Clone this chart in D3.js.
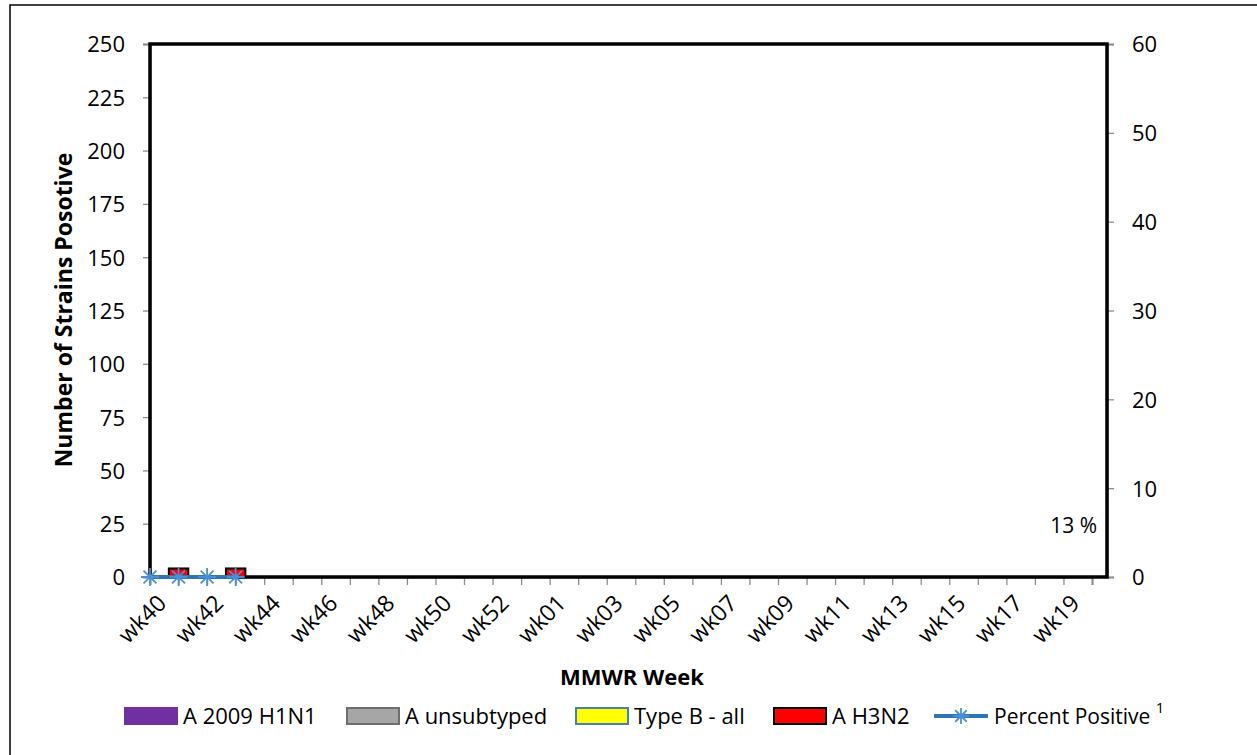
<!DOCTYPE html>
<html><head><meta charset="utf-8">
<script src="https://cdn.jsdelivr.net/npm/d3@7"></script>
<style>
html,body{margin:0;padding:0;background:#fff;}
text{font-family:"Open Sans","Noto Sans",sans-serif;fill:#000;}
</style></head>
<body><svg id="c" width="1257" height="755"></svg>
<script>
// ---- data ----
const categories = ["wk40","wk41","wk42","wk43","wk44","wk45","wk46","wk47","wk48","wk49","wk50","wk51","wk52","wk53",
  "wk01","wk02","wk03","wk04","wk05","wk06","wk07","wk08","wk09","wk10","wk11","wk12","wk13","wk14","wk15","wk16","wk17","wk18","wk19","wk20"];
const xTickLabels = ["wk40","wk42","wk44","wk46","wk48","wk50","wk52","wk01","wk03","wk05","wk07","wk09","wk11","wk13","wk15","wk17","wk19"];
const dataWeeks = ["wk40","wk41","wk42","wk43"];
const a2009H1N1 = [0,0,0,0];
const aUnsubtyped = [0,0,0,0];
const typeBAll = [0,0,0,0];
const aH3N2 = [0,4,0,4];
const percentPositive = [0,0,0,0];
const leftTicks = [0,25,50,75,100,125,150,175,200,225,250];
const rightTicks = [0,10,20,30,40,50,60];
const seriesNames = ["A 2009 H1N1","A unsubtyped","Type B - all","A H3N2"];
const seriesFill = ["#7030A0","#A6A6A6","#FFFF00","#FF0000"];
const seriesStroke = ["#7030A0","#6E6E6E","#4A7EBB","#000000"];
const annotation = "13 %";

// ---- layout ----
const L=150, R=1107, T=44, B=577;
const svg = d3.select("#c");
svg.append("rect").attr("x",10).attr("y",5).attr("width",1300).attr("height",800)
  .attr("fill","#fff").attr("stroke","#000").attr("stroke-width",1.5);

const x = d3.scalePoint().domain(categories).range([L, 1092]);
const yL = d3.scaleLinear().domain([0,250]).range([B,T]);
const yR = d3.scaleLinear().domain([0,60]).range([B,T]);

// axes
const gL = svg.append("g").attr("transform",`translate(${L},0)`)
  .call(d3.axisLeft(yL).tickValues(leftTicks).tickSize(7).tickPadding(18));
const gR = svg.append("g").attr("transform",`translate(${R},0)`)
  .call(d3.axisRight(yR).tickValues(rightTicks).tickSize(7).tickPadding(18));
const gB = svg.append("g").attr("transform",`translate(0,${B})`)
  .call(d3.axisBottom(x).tickSize(8).tickFormat(""));
[gL,gR,gB].forEach(g=>{
  g.select(".domain").attr("stroke","#8c8c8c").attr("stroke-width",2);
  g.selectAll(".tick line").attr("stroke","#8c8c8c").attr("stroke-width",1.3);
  g.selectAll(".tick text").style("font-size","22px").attr("fill","#000");
});
gL.selectAll(".tick text").attr("dy","0.36em");
gR.selectAll(".tick text").attr("dy","0.36em");

// x labels
svg.append("g").selectAll("text").data(xTickLabels).join("text")
  .attr("transform",d=>`translate(${x(d)+12},${599}) rotate(-45)`)
  .attr("text-anchor","end").attr("dy","0.35em").style("font-size","23px").text(d=>d);

// plot border
svg.append("rect").attr("x",L).attr("y",T).attr("width",R-L).attr("height",B-T)
  .attr("fill","none").attr("stroke","#000").attr("stroke-width",3.5);

// stacked bars
const rows = dataWeeks.map((w,i)=>({week:w, s0:a2009H1N1[i], s1:aUnsubtyped[i], s2:typeBAll[i], s3:aH3N2[i]}));
const stack = d3.stack().keys(["s0","s1","s2","s3"])(rows);
const bw = x.step()*0.68;
stack.forEach((layer,k)=>{
  svg.append("g").selectAll("rect").data(layer.filter(d=>d[1]-d[0]>0)).join("rect")
    .attr("x",d=>x(d.data.week)-bw/2).attr("width",bw)
    .attr("y",d=>yL(d[1])).attr("height",d=>yL(d[0])-yL(d[1]))
    .attr("fill",seriesFill[k]).attr("stroke",seriesStroke[k]).attr("stroke-width",2);
});

// percent positive line
const lineColor="#2E75B6", markColor="#4A90D9";
const pts = dataWeeks.map((w,i)=>[x(w), yR(percentPositive[i])]);
svg.append("path").attr("d",d3.line()(pts)).attr("fill","none").attr("stroke",lineColor).attr("stroke-width",4);
function star(g,cx,cy,r){
  const a=r*0.72;
  const p=`M${cx},${cy-r}L${cx},${cy+r}M${cx-a},${cy-a}L${cx+a},${cy+a}M${cx-a},${cy+a}L${cx+a},${cy-a}M${cx-r},${cy}L${cx+r},${cy}`;
  g.append("path").attr("d",p).attr("stroke",markColor).attr("stroke-width",1.8).attr("fill","none");
}
const mg=svg.append("g");
pts.forEach(p=>star(mg,p[0],p[1],9));

// annotation
svg.append("text").attr("x",1097).attr("y",533).attr("text-anchor","end").style("font-size","21px").text(annotation);

// titles
svg.append("text").attr("transform","translate(72,310) rotate(-90)").attr("text-anchor","middle")
  .style("font-size","23px").style("font-weight","bold").text("Number of Strains Posotive");
svg.append("text").attr("x",632).attr("y",685).attr("text-anchor","middle")
  .style("font-size","22px").style("font-weight","bold").text("MMWR Week");

// legend
const lgX=[125,347,576,774], lgY=708;
seriesNames.forEach((n,k)=>{
  svg.append("rect").attr("x",lgX[k]).attr("y",lgY).attr("width",52).attr("height",16)
    .attr("fill",seriesFill[k]).attr("stroke",seriesStroke[k]).attr("stroke-width",2);
  svg.append("text").attr("x",lgX[k]+58).attr("y",lgY+16).style("font-size","22px").text(n);
});
svg.append("line").attr("x1",934).attr("x2",988).attr("y1",716).attr("y2",716).attr("stroke",lineColor).attr("stroke-width",4);
star(svg,961,716,8);
const pt = svg.append("text").attr("x",994).attr("y",724).style("font-size","21px");
pt.append("tspan").text("Percent Positive ");
pt.append("tspan").attr("dy",-11).style("font-size","15px").text("1");
</script></body></html>
